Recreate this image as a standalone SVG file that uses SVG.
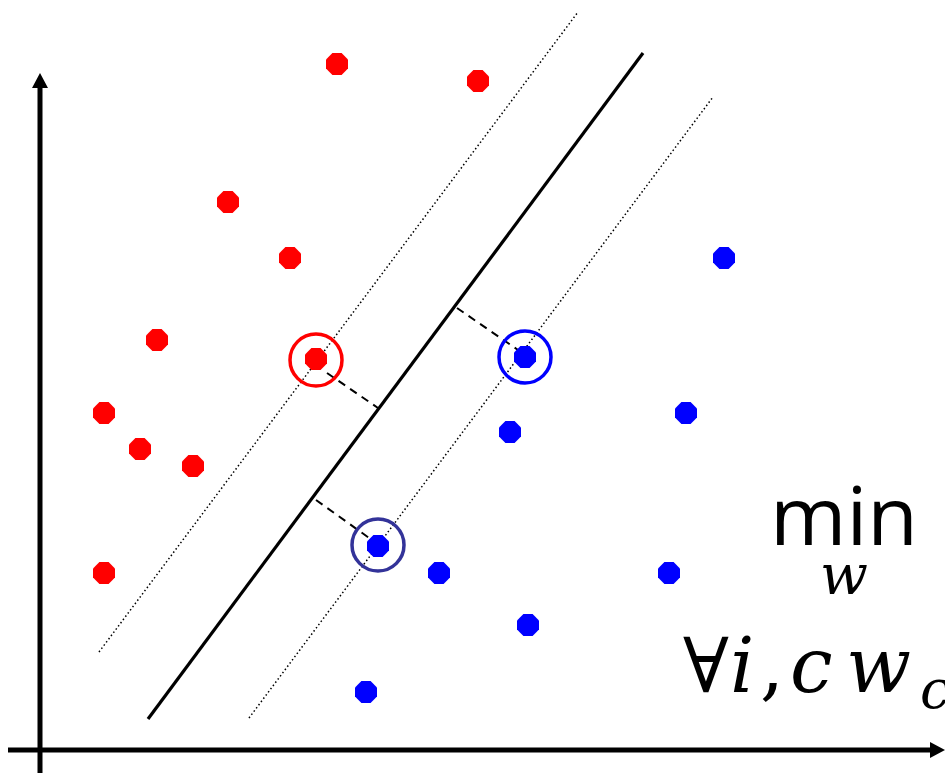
<svg xmlns="http://www.w3.org/2000/svg" width="945" height="773" viewBox="0 0 945 773">
<style>
.red{fill:#ff0000}
.blue{fill:#0000ff}
.axis{stroke:#000;stroke-width:5;fill:none}
.dot-line{stroke:#000;stroke-width:1.5;stroke-dasharray:1.5 2.5;fill:none}
.dash{stroke:#000;stroke-width:2;stroke-dasharray:8 6;fill:none}
</style>
<defs>
<polygon id="oct" points="-4.6,-11 4.6,-11 11,-4.6 11,4.6 4.6,11 -4.6,11 -11,4.6 -11,-4.6"/>
</defs>
<rect width="945" height="773" fill="#fff"/>
<g id="axes">
<line class="axis" x1="40" y1="773" x2="40" y2="86"/>
<polygon points="40,73 32,88 48,88" fill="#000"/>
<line class="axis" x1="8" y1="750" x2="932" y2="750"/>
<polygon points="945,750 930,742 930,758" fill="#000"/>
</g>
<g id="connectors">
<line x1="148" y1="719" x2="643" y2="53" stroke="#000" stroke-width="3.2"/>
<line class="dot-line" x1="99" y1="652" x2="578" y2="12"/>
<line class="dot-line" x1="249" y1="718" x2="713" y2="97"/>
<line class="dash" x1="327" y1="373" x2="378" y2="408"/>
<line class="dash" x1="457" y1="308" x2="518" y2="350"/>
<line class="dash" x1="316" y1="500" x2="372" y2="540"/>
</g>
<g id="red-points" class="red">
<use href="#oct" x="337" y="64"/>
<use href="#oct" x="478" y="81"/>
<use href="#oct" x="228" y="202"/>
<use href="#oct" x="290" y="258"/>
<use href="#oct" x="157" y="340"/>
<use href="#oct" x="316" y="359"/>
<use href="#oct" x="104" y="413"/>
<use href="#oct" x="140" y="449"/>
<use href="#oct" x="193" y="466"/>
<use href="#oct" x="104" y="573"/>
</g>
<g id="blue-points" class="blue">
<use href="#oct" x="724" y="258"/>
<use href="#oct" x="525" y="357"/>
<use href="#oct" x="686" y="413"/>
<use href="#oct" x="510" y="432"/>
<use href="#oct" x="378" y="546"/>
<use href="#oct" x="439" y="573"/>
<use href="#oct" x="669" y="573"/>
<use href="#oct" x="528" y="625"/>
<use href="#oct" x="366" y="692"/>
</g>
<g id="support-vectors" fill="none" stroke-width="3.5">
<circle cx="316" cy="360" r="26" stroke="#ff0000"/>
<circle cx="525" cy="357" r="26" stroke="#0000ff"/>
<circle cx="378" cy="545" r="26" stroke="#333399"/>
</g>
<g id="formula">
<text font-family="Open Sans, sans-serif" font-size="80"><tspan x="770" y="545" textLength="148" lengthAdjust="spacingAndGlyphs">min</tspan><tspan x="820" y="594" font-family="'DejaVu Serif', serif" font-size="56" font-style="italic">w</tspan></text>
<text y="692" font-family="'DejaVu Serif', serif" font-size="76"><tspan x="683">∀</tspan><tspan x="730" font-style="italic">i</tspan><tspan x="760">,</tspan><tspan x="790" font-style="italic">c</tspan><tspan x="846" font-style="italic">w</tspan><tspan x="920" y="708" font-size="54" font-style="italic">c</tspan></text>
</g>
</svg>
